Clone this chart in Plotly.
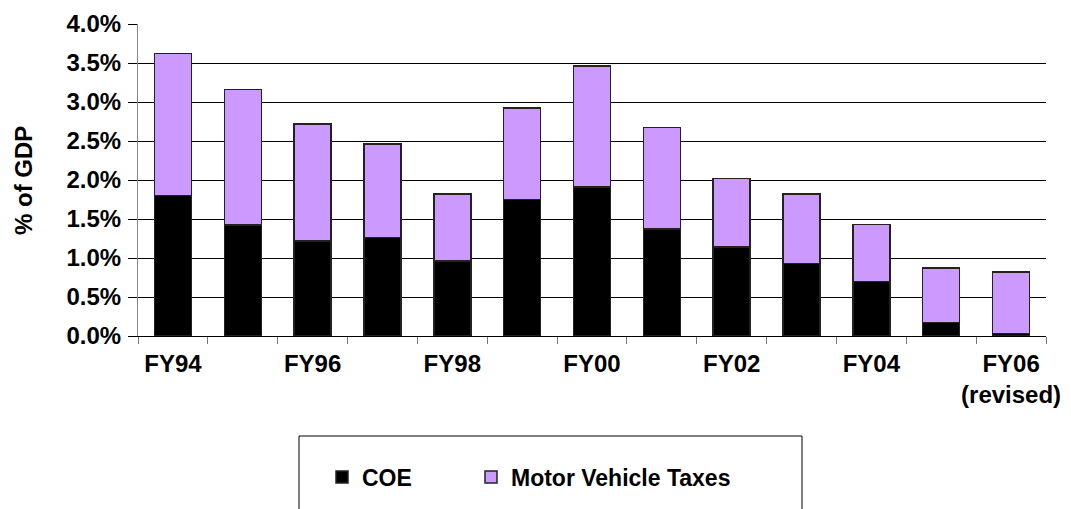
import plotly.graph_objects as go

categories = ["FY94", "FY95", "FY96", "FY97", "FY98", "FY99", "FY00",
              "FY01", "FY02", "FY03", "FY04", "FY05", "FY06 (revised)"]
tick_labels = ["FY94", "", "FY96", "", "FY98", "", "FY00",
               "", "FY02", "", "FY04", "", "FY06<br>(revised)"]
coe = [1.80, 1.42, 1.22, 1.26, 0.96, 1.75, 1.91, 1.37, 1.14, 0.93, 0.70, 0.17, 0.03]
motor_vehicle_taxes = [1.82, 1.74, 1.50, 1.20, 0.86, 1.17, 1.55, 1.30, 0.88, 0.89, 0.73, 0.70, 0.79]
y_ticks = [0, 0.5, 1.0, 1.5, 2.0, 2.5, 3.0, 3.5, 4.0]

FONT = "Liberation Sans, Arial, sans-serif"
W, H = 1071, 509
ML, MR, MT, MB = 138, 25, 24, 173
PW, PH = W - ML - MR, H - MT - MB

def px_x(p):
    return (p - ML) / PW

def px_y(p):
    return (H - MB - p) / PH

fig = go.Figure()
fig.add_trace(go.Bar(
    x=categories, y=coe, name="COE", legend="legend",
    marker=dict(color="#000000", line=dict(color="#222222", width=1.5)),
))
fig.add_trace(go.Bar(
    x=categories, y=motor_vehicle_taxes, name="Motor Vehicle Taxes", legend="legend2",
    marker=dict(color="#CC99FF", line=dict(color="#222222", width=1.5)),
))

legend_font = dict(family=FONT, size=23, color="black", weight="bold")

fig.update_layout(
    width=W, height=H,
    margin=dict(l=ML, r=MR, t=MT, b=MB, pad=0, autoexpand=False),
    barmode="stack",
    bargap=0.47,
    plot_bgcolor="white",
    paper_bgcolor="white",
    font=dict(family=FONT, size=24, color="black"),
    showlegend=True,
    legend=dict(
        orientation="h",
        x=px_x(322), xanchor="left",
        y=px_y(477), yanchor="middle",
        font=legend_font,
        bgcolor="rgba(0,0,0,0)",
        borderwidth=0,
    ),
    legend2=dict(
        orientation="h",
        x=px_x(471), xanchor="left",
        y=px_y(477), yanchor="middle",
        font=legend_font,
        bgcolor="rgba(0,0,0,0)",
        borderwidth=0,
    ),
    xaxis=dict(
        type="category",
        tickmode="array",
        tickvals=categories,
        ticktext=tick_labels,
        tickson="boundaries",
        ticks="outside",
        ticklen=7,
        tickcolor="#777777",
        tickwidth=1,
        showline=True,
        linecolor="black",
        linewidth=1,
        showgrid=False,
        tickfont=dict(family=FONT, size=24, color="black", weight="bold"),
        ticklabelstandoff=6,
        tickangle=0,
        automargin=False,
    ),
    yaxis=dict(
        range=[0, 4.0],
        tickmode="array",
        tickvals=y_ticks,
        ticktext=[f"{v:.1f}%" for v in y_ticks],
        ticks="outside",
        ticklen=9,
        tickcolor="black",
        showline=True,
        linecolor="#888888",
        linewidth=1,
        showgrid=True,
        gridcolor="black",
        gridwidth=1,
        zeroline=False,
        tickfont=dict(family=FONT, size=24, color="black", weight="bold"),
        ticklabelstandoff=2,
        automargin=False,
    ),
    annotations=[dict(
        text="% of GDP", textangle=-90,
        xref="paper", yref="paper",
        x=px_x(23), y=px_y(180),
        xanchor="center", yanchor="middle",
        showarrow=False,
        font=dict(family=FONT, size=24, color="black", weight="bold"),
    )],
    shapes=[dict(
        type="rect", xref="paper", yref="paper",
        x0=px_x(299), x1=px_x(802),
        y0=px_y(530), y1=px_y(436),
        line=dict(color="black", width=1),
        fillcolor="rgba(0,0,0,0)",
        layer="below",
    )],
)

fig.write_html(
    "out.html",
    config={"displayModeBar": False},
    post_script="document.body.style.margin='0';document.body.style.overflow='hidden';",
)
